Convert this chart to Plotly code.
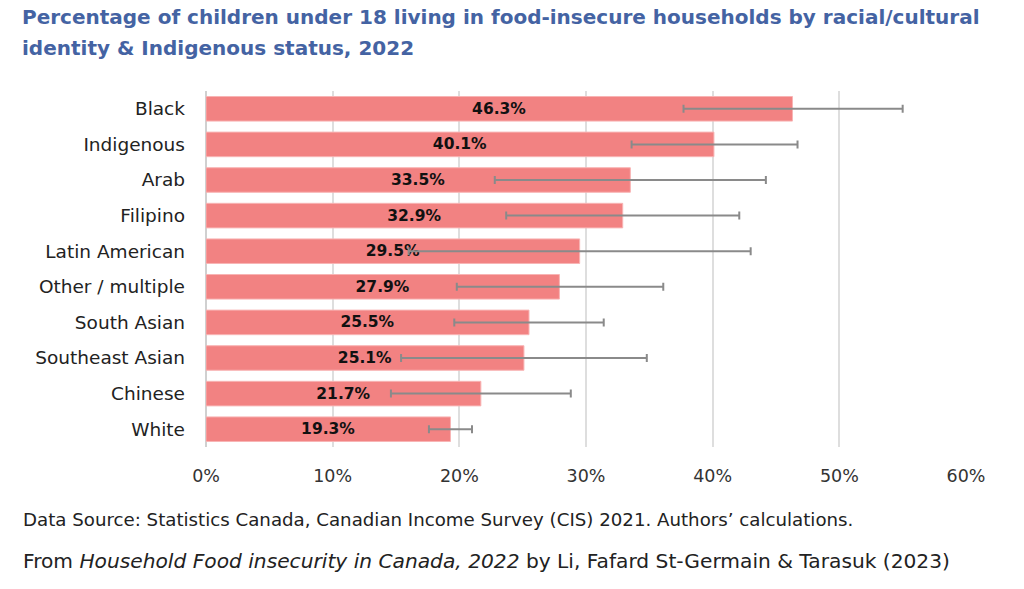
import plotly.graph_objects as go

categories = ["Black", "Indigenous", "Arab", "Filipino", "Latin American",
              "Other / multiple", "South Asian", "Southeast Asian", "Chinese", "White"]
values = [46.3, 40.1, 33.5, 32.9, 29.5, 27.9, 25.5, 25.1, 21.7, 19.3]
ci_low = [37.7, 33.6, 22.8, 23.7, 16.0, 19.8, 19.6, 15.4, 14.6, 17.6]
ci_high = [55.0, 46.7, 44.2, 42.1, 43.0, 36.1, 31.4, 34.8, 28.8, 21.0]
tick_vals = [0, 10, 20, 30, 40, 50, 60]
tick_text = ["0%", "10%", "20%", "30%", "40%", "50%", "60%"]

err_plus = [h - v for h, v in zip(ci_high, values)]
err_minus = [v - l for v, l in zip(values, ci_low)]

FONT = "DejaVu Sans"
W, H = 1024, 589
L, R, T, B = 206, 1024 - 966, 91, 589 - 447

def px(x, y):
    # reference pixel -> paper coords
    return (x - L) / (W - L - R), ((H - y) - B) / (H - T - B)

fig = go.Figure()
fig.add_trace(go.Bar(
    x=values, y=categories, orientation="h",
    marker=dict(color="#F28282", line=dict(color="#F8B4B4", width=1)),
    width=0.69,
    text=[f"{v:.1f}%" for v in values],
    textposition="inside", insidetextanchor="middle",
    textfont=dict(family=FONT, size=15.5, color="#111111", weight=700),
    error_x=dict(type="data", symmetric=False, array=err_plus, arrayminus=err_minus,
                 color="#8a8a8a", thickness=2, width=4),
    hoverinfo="skip",
))

notes = [
    ("Percentage of children under 18 living in food-insecure households by racial/cultural",
     20, 17, dict(family=FONT, size=20, color="#4463A3", weight=700)),
    ("identity & Indigenous status, 2022",
     20, 48, dict(family=FONT, size=20, color="#4463A3", weight=700)),
    ("Data Source: Statistics Canada, Canadian Income Survey (CIS) 2021. Authors’ calculations.",
     21, 519, dict(family=FONT, size=18.2, color="#222222")),
    ("From <i>Household Food insecurity in Canada, 2022</i> by Li, Fafard St-Germain & Tarasuk (2023)",
     21, 561, dict(family=FONT, size=20.2, color="#222222")),
]
anns = []
for text, x, y, f in notes:
    ax, ay = px(x, y)
    anns.append(dict(text=text, x=ax, y=ay, xref="paper", yref="paper", showarrow=False,
                     xanchor="left", yanchor="middle", font=f))

fig.update_layout(
    width=W, height=H,
    margin=dict(l=L, r=R, t=T, b=B, autoexpand=False),
    paper_bgcolor="white", plot_bgcolor="white",
    showlegend=False,
    xaxis=dict(range=[0, 60], tickvals=tick_vals, ticktext=tick_text,
               showgrid=True, gridcolor="#dedede", gridwidth=2,
               zeroline=True, zerolinecolor="#d0d0d0", zerolinewidth=2,
               tickfont=dict(family=FONT, size=17.5, color="#333333"),
               ticks="", ticklabelstandoff=16, fixedrange=True),
    yaxis=dict(autorange="reversed", showgrid=False,
               tickfont=dict(family=FONT, size=18.5, color="#222222"),
               ticks="", ticklabelstandoff=20, fixedrange=True),
    annotations=anns,
)

fig.write_html("out.html",
               config={"displayModeBar": False, "staticPlot": True},
               post_script="document.body.style.margin='0px';document.body.style.overflow='hidden';")
